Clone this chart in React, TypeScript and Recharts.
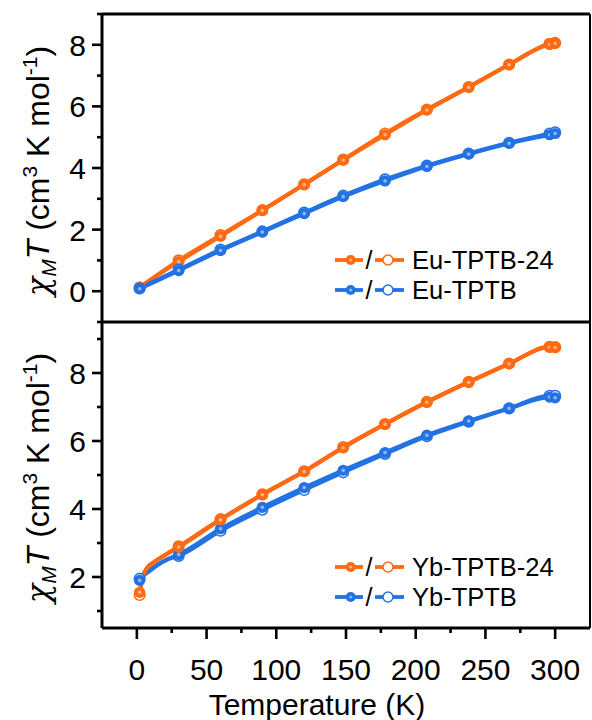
import React from 'react';
import { ComposedChart, Line, Scatter, XAxis, YAxis, ReferenceLine, Legend } from 'recharts';

const FONT = '"Liberation Sans", Arial, Helvetica, sans-serif';
const ORANGE = '#FF6A13';
const BLUE = '#2272E3';

// Temperatures (K) where markers are drawn
const tempMarks = [2, 30, 60, 90, 120, 148, 178, 208, 238, 267, 296, 300];

// Top panel: Eu samples (filled = heating, open = second run)
const euTPTB24Filled = [0.13, 0.96, 1.78, 2.62, 3.46, 4.26, 5.08, 5.88, 6.62, 7.35, 8.02, 8.05];
const euTPTB24Open = [0.12, 1.0, 1.82, 2.63, 3.47, 4.27, 5.12, 5.9, 6.63, 7.36, 8.03, 8.06];
const euTPTBFilled = [0.08, 0.67, 1.32, 1.92, 2.52, 3.07, 3.58, 4.05, 4.45, 4.8, 5.08, 5.12];
const euTPTBOpen = [0.09, 0.7, 1.35, 1.94, 2.55, 3.1, 3.63, 4.08, 4.47, 4.82, 5.12, 5.16];

// Bottom panel: Yb samples
const ybTPTB24Filled = [1.55, 2.88, 3.68, 4.42, 5.1, 5.8, 6.49, 7.14, 7.73, 8.27, 8.76, 8.75];
const ybTPTB24Open = [1.47, 2.9, 3.7, 4.43, 5.11, 5.82, 6.5, 7.15, 7.74, 8.28, 8.77, 8.76];
const ybTPTBFilled = [1.9, 2.66, 3.42, 4.05, 4.63, 5.14, 5.66, 6.17, 6.59, 6.96, 7.29, 7.27];
const ybTPTBOpen = [1.95, 2.62, 3.36, 3.98, 4.56, 5.08, 5.62, 6.14, 6.57, 6.96, 7.33, 7.33];

// extra low-temperature points of the measured curves (no markers)
const ybTPTB24LowT = [3, 4, 5, 6, 8, 12, 20];
const ybTPTB24LowV = [1.75, 1.98, 2.1, 2.18, 2.3, 2.43, 2.64];
const ybTPTBLowT = [4, 8, 15, 22];
const ybTPTBLowV = [2.02, 2.15, 2.36, 2.52];

// axes
const xDomain = [-25, 325];
const xTicks = [0, 25, 50, 75, 100, 125, 150, 175, 200, 225, 250, 275, 300];
const xMajor = [0, 50, 100, 150, 200, 250, 300];
const euDomain = [-1, 9];
const euYTicks = [-1, 0, 1, 2, 3, 4, 5, 6, 7, 8, 9];
const euYMajor = [0, 2, 4, 6, 8];
const ybDomain = [0.5, 9.5];
const ybYTicks = [1, 2, 3, 4, 5, 6, 7, 8, 9];
const ybYMajor = [2, 4, 6, 8];

const euLegend = [
  { name: 'Eu-TPTB-24', color: ORANGE },
  { name: 'Eu-TPTB', color: BLUE },
];
const ybLegend = [
  { name: 'Yb-TPTB-24', color: ORANGE },
  { name: 'Yb-TPTB', color: BLUE },
];

const pts = (ts: number[], vs: number[]) => ts.map((t, i) => ({ t, v: vs[i] }));
const merged = (ts: number[], vs: number[], et: number[] = [], ev: number[] = []) =>
  [...pts(ts, vs), ...pts(et, ev)].sort((a, b) => a.t - b.t);

const FilledDot = (color: string) => (p: any) => (
  <g>
    <circle cx={p.cx} cy={p.cy} r={5.6} fill={color} />
    <circle cx={p.cx} cy={p.cy} r={1.8} fill="#fff" fillOpacity={0.5} />
  </g>
);
const OpenDot = (color: string) => (p: any) => (
  <circle cx={p.cx} cy={p.cy} r={5.3} fill="#fff" fillOpacity={0.8} stroke={color} strokeWidth={1.6} />
);

const XTickUp = (p: any) => {
  const major = xMajor.includes(p.payload.value);
  return <line x1={p.x} x2={p.x} y1={p.y} y2={p.y - (major ? 11 : 5)} stroke="#000" strokeWidth={2.6} />;
};
const XTickDown = (p: any) => {
  const major = xMajor.includes(p.payload.value);
  return (
    <g>
      <line x1={p.x} x2={p.x} y1={p.y} y2={p.y + (major ? 11 : 5)} stroke="#000" strokeWidth={2.6} />
      {major && (
        <text x={p.x} y={p.y + 52} textAnchor="middle" fontSize={30} fontFamily={FONT} fill="#000">
          {p.payload.value}
        </text>
      )}
    </g>
  );
};
const makeYTick = (majors: number[]) => (p: any) => {
  const major = majors.includes(p.payload.value);
  return (
    <g>
      <line x1={p.x} x2={p.x - (major ? 10 : 5)} y1={p.y} y2={p.y} stroke="#000" strokeWidth={2.6} />
      {major && (
        <text x={p.x - 16} y={p.y + 11} textAnchor="end" fontSize={30} fontFamily={FONT} fill="#000">
          {p.payload.value}
        </text>
      )}
    </g>
  );
};

const YTitle = (props: any) => {
  const vb = props.viewBox || {};
  const cx = 49;
  const cy = vb.y + vb.height / 2 + 3;
  return (
    <text
      x={cx}
      y={cy}
      transform={`rotate(-90, ${cx}, ${cy})`}
      textAnchor="middle"
      fontSize={32}
      fontFamily={FONT}
      fill="#000"
    >
      <tspan fontStyle="italic" fontFamily='"DejaVu Serif", serif'>χ</tspan>
      <tspan fontStyle="italic" fontSize={21} dy={7}>M</tspan>
      <tspan fontStyle="italic" dy={-7}>T</tspan>
      <tspan> (cm</tspan>
      <tspan fontSize={21} dy={-12}>3</tspan>
      <tspan dy={12}> K mol</tspan>
      <tspan fontSize={21} dy={-12}>-1</tspan>
      <tspan dy={12}>)</tspan>
    </text>
  );
};

const XTitle = () => (
  <text x={317} y={715} textAnchor="middle" fontSize={30} fontFamily={FONT} fill="#000">
    Temperature (K)
  </text>
);

const LegendBox = (items: { name: string; color: string }[]) => () => (
  <svg width={260} height={62} style={{ display: 'block', overflow: 'visible' }}>
    {items.map((it, i) => {
      const cy = 15 + i * 30;
      return (
        <g key={it.name}>
          <line x1={2} x2={30} y1={cy} y2={cy} stroke={it.color} strokeWidth={3.8} />
          <circle cx={17.7} cy={cy} r={5} fill={it.color} />
          <circle cx={17.7} cy={cy} r={1.6} fill="#fff" fillOpacity={0.5} />
          <text x={36} y={cy + 9} fontSize={25} fontFamily={FONT} textAnchor="middle" fill="#000">/</text>
          <line x1={42} x2={71} y1={cy} y2={cy} stroke={it.color} strokeWidth={3.8} />
          <circle cx={55} cy={cy} r={5} fill="#fff" stroke={it.color} strokeWidth={1.5} />
          <text x={79} y={cy + 9} fontSize={25.5} fontFamily={FONT} fill="#000">{it.name}</text>
        </g>
      );
    })}
  </svg>
);

const Series = (
  color: string,
  filled: number[],
  open: number[],
  et: number[] = [],
  ev: number[] = [],
  key: string
) => [
  <Line
    key={key + 'lo'}
    data={merged(tempMarks, open, et, ev)}
    dataKey="v"
    type="monotone"
    stroke={color}
    strokeWidth={4}
    dot={false}
    activeDot={false}
    isAnimationActive={false}
  />,
  <Line
    key={key + 'lf'}
    data={merged(tempMarks, filled, et, ev)}
    dataKey="v"
    type="monotone"
    stroke={color}
    strokeWidth={4}
    dot={false}
    activeDot={false}
    isAnimationActive={false}
  />,
  <Scatter key={key + 'so'} data={pts(tempMarks, open)} dataKey="v" shape={OpenDot(color)} isAnimationActive={false} />,
  <Scatter key={key + 'sf'} data={pts(tempMarks, filled)} dataKey="v" shape={FilledDot(color)} isAnimationActive={false} />,
];

export default function App() {
  return (
    <div style={{ position: 'absolute', left: 0, top: 0, width: 592, height: 720, background: '#fff' }}>
      <div style={{ position: 'absolute', left: 0, top: 0 }}>
        <ComposedChart width={592} height={330} margin={{ top: 14, right: 2, left: 0, bottom: 8 }}>
          <XAxis
            dataKey="t"
            type="number"
            domain={xDomain}
            allowDataOverflow
            ticks={xTicks}
            interval={0}
            height={0}
            tickSize={0}
            tickMargin={0}
            tickLine={false}
            tick={<XTickUp />}
            axisLine={{ stroke: '#000', strokeWidth: 3 }}
          />
          <YAxis
            dataKey="v"
            type="number"
            domain={euDomain}
            allowDataOverflow
            ticks={euYTicks}
            interval={0}
            width={102}
            tickSize={0}
            tickMargin={0}
            tickLine={false}
            tick={makeYTick(euYMajor)}
            axisLine={{ stroke: '#000', strokeWidth: 3 }}
            label={{ content: YTitle }}
          />
          <ReferenceLine y={9} stroke="#000" strokeWidth={3} />
          <ReferenceLine x={325} stroke="#000" strokeWidth={2} />
          {Series(ORANGE, euTPTB24Filled, euTPTB24Open, [], [], 'eu24')}
          {Series(BLUE, euTPTBFilled, euTPTBOpen, [], [], 'eu')}
          <Legend
            layout="horizontal"
            verticalAlign="middle"
            align="center"
            content={LegendBox(euLegend)}
            wrapperStyle={{ left: 333, top: 245, width: 260, height: 62 }}
          />
        </ComposedChart>
      </div>
      <div style={{ position: 'absolute', left: 0, top: 0 }}>
        <ComposedChart width={592} height={720} margin={{ top: 322, right: 2, left: 0, bottom: 0 }}>
          <XAxis
            dataKey="t"
            type="number"
            domain={xDomain}
            allowDataOverflow
            ticks={xTicks}
            interval={0}
            height={92}
            tickSize={0}
            tickMargin={0}
            tickLine={false}
            tick={<XTickDown />}
            axisLine={{ stroke: '#000', strokeWidth: 3 }}
            label={{ content: XTitle }}
          />
          <YAxis
            dataKey="v"
            type="number"
            domain={ybDomain}
            allowDataOverflow
            ticks={ybYTicks}
            interval={0}
            width={102}
            tickSize={0}
            tickMargin={0}
            tickLine={false}
            tick={makeYTick(ybYMajor)}
            axisLine={{ stroke: '#000', strokeWidth: 3 }}
            label={{ content: YTitle }}
          />
          <ReferenceLine y={9.5} stroke="#000" strokeWidth={3} />
          <ReferenceLine x={325} stroke="#000" strokeWidth={2} />
          {Series(BLUE, ybTPTBFilled, ybTPTBOpen, ybTPTBLowT, ybTPTBLowV, 'yb')}
          {Series(ORANGE, ybTPTB24Filled, ybTPTB24Open, ybTPTB24LowT, ybTPTB24LowV, 'yb24')}
          <Legend
            layout="horizontal"
            verticalAlign="middle"
            align="center"
            content={LegendBox(ybLegend)}
            wrapperStyle={{ left: 333, top: 552, width: 260, height: 62 }}
          />
        </ComposedChart>
      </div>
    </div>
  );
}
